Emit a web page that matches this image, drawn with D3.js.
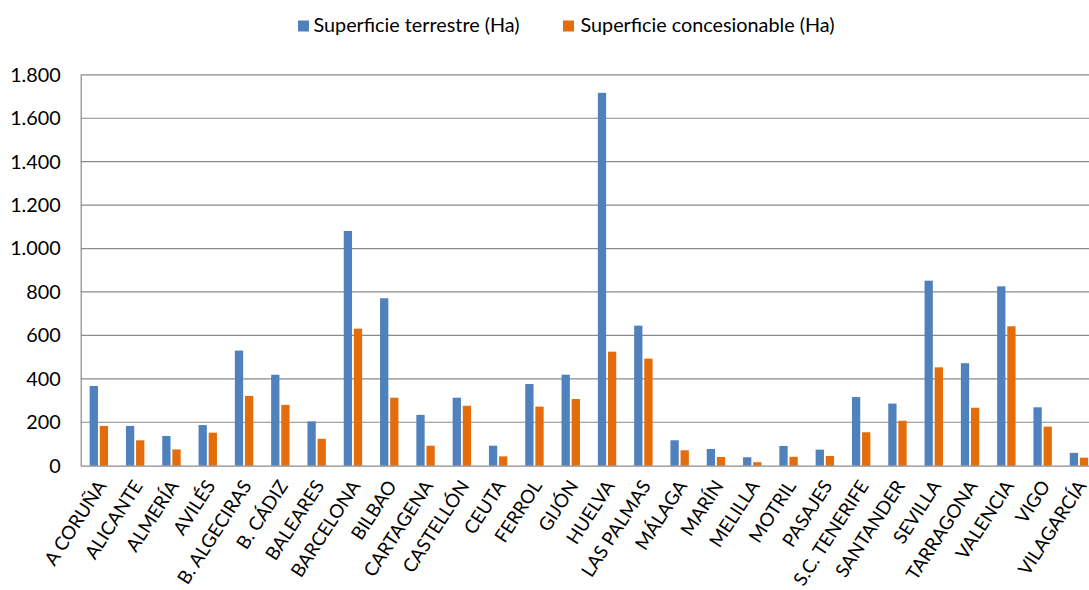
<!DOCTYPE html>
<html>
<head>
<meta charset="utf-8">
<script src="https://cdn.jsdelivr.net/npm/d3@7"></script>
<style>
  html, body { margin: 0; padding: 0; background: #fff; overflow: hidden; }
  svg { display: block; }
  text { font-family: Lato, "Open Sans", sans-serif; fill: #000; }
</style>
</head>
<body>
<svg id="chart" width="1100" height="590"></svg>
<script>
// Puertos
const categories = ["A CORUÑA", "ALICANTE", "ALMERÍA", "AVILÉS", "B. ALGECIRAS", "B. CÁDIZ",
  "BALEARES", "BARCELONA", "BILBAO", "CARTAGENA", "CASTELLÓN", "CEUTA", "FERROL", "GIJÓN",
  "HUELVA", "LAS PALMAS", "MÁLAGA", "MARÍN", "MELILLA", "MOTRIL", "PASAJES", "S.C. TENERIFE",
  "SANTANDER", "SEVILLA", "TARRAGONA", "VALENCIA", "VIGO", "VILAGARCÍA"];

// Superficie terrestre (Ha)
const terrestre = [367, 183, 137, 187, 530, 419, 204, 1081, 771, 234, 313, 92, 376, 419,
  1717, 645, 117, 77, 39, 91, 74, 316, 286, 852, 472, 826, 269, 59];

// Superficie concesionable (Ha)
const concesionable = [183, 117, 75, 152, 321, 280, 124, 631, 313, 92, 276, 43, 272, 307,
  525, 493, 71, 40, 16, 41, 45, 154, 207, 453, 267, 642, 180, 37];

const seriesNames = ["Superficie terrestre (Ha)", "Superficie concesionable (Ha)"];
const seriesColors = ["#4F81BD", "#E46C0A"];
const yTicks = [0, 200, 400, 600, 800, 1000, 1200, 1400, 1600, 1800];

const fmt = d3.formatLocale({ decimal: ",", thousands: ".", grouping: [3], currency: ["", "€"] }).format(",d");

const FONT = "Lato, 'Open Sans', sans-serif";
const FONT_SIZE = 19.8;
const XLABEL_SIZE = 18.8;

const svg = d3.select("#chart");
const margin = { left: 80.7, right: 1097.1, top: 74.8, bottom: 465.7 };

const x0 = d3.scaleBand().domain(categories).range([margin.left, margin.right]).padding(0);
const pairWidth = 18.4;
const x1 = d3.scaleBand().domain(seriesNames).range([0, pairWidth]).paddingInner(0.18);
const y = d3.scaleLinear().domain([0, 1800]).range([margin.bottom, margin.top]);

// Horizontal gridlines
svg.append("g")
  .selectAll("line")
  .data(yTicks.filter(d => d > 0))
  .join("line")
  .attr("x1", margin.left).attr("x2", margin.right)
  .attr("y1", d => y(d)).attr("y2", d => y(d))
  .attr("stroke", "#8a8a8a").attr("stroke-width", 1.2);

// Y axis labels
const yAxis = d3.axisLeft(y).tickValues(yTicks).tickFormat(fmt).tickSize(0).tickPadding(20);
const gy = svg.append("g").attr("transform", `translate(${margin.left},0)`).call(yAxis);
gy.select(".domain").attr("stroke", "#8a8a8a").attr("stroke-width", 1.2);
gy.selectAll("text").attr("font-size", FONT_SIZE).attr("font-family", FONT).attr("fill", "#000");

// Bars
const rows = categories.map((c, i) => ({ cat: c, vals: [terrestre[i], concesionable[i]] }));
const groups = svg.append("g")
  .selectAll("g")
  .data(rows)
  .join("g")
  .attr("transform", d => `translate(${x0(d.cat) + (x0.bandwidth() - pairWidth) / 2},0)`);

groups.selectAll("rect")
  .data(d => d.vals.map((v, k) => ({ name: seriesNames[k], v, k })))
  .join("rect")
  .attr("x", d => x1(d.name))
  .attr("width", x1.bandwidth())
  .attr("y", d => y(d.v))
  .attr("height", d => y(0) - y(d.v))
  .attr("fill", d => seriesColors[d.k]);

// X axis
const xAxis = d3.axisBottom(x0).tickSize(0).tickPadding(0);
const gx = svg.append("g").attr("transform", `translate(0,${margin.bottom})`).call(xAxis);
gx.select(".domain").attr("stroke", "#8a8a8a").attr("stroke-width", 1.2);
gx.selectAll("text")
  .attr("font-size", XLABEL_SIZE)
  .attr("font-family", FONT)
  .attr("fill", "#000")
  .attr("text-anchor", "end")
  .attr("dy", null)
  .attr("y", 0)
  .attr("dominant-baseline", "central")
  .attr("transform", "translate(2,16) rotate(-57)");

// Legend
const legendItems = [
  { name: seriesNames[0], color: seriesColors[0], sx: 298, tx: 313.5 },
  { name: seriesNames[1], color: seriesColors[1], sx: 563, tx: 580.5 }
];
const lg = svg.append("g");
lg.selectAll("rect").data(legendItems).join("rect")
  .attr("x", d => d.sx).attr("y", 20.5).attr("width", 11).attr("height", 11)
  .attr("fill", d => d.color);
lg.selectAll("text").data(legendItems).join("text")
  .attr("x", d => d.tx).attr("y", 31.5)
  .attr("font-size", FONT_SIZE)
  .text(d => d.name);
</script>
</body>
</html>
